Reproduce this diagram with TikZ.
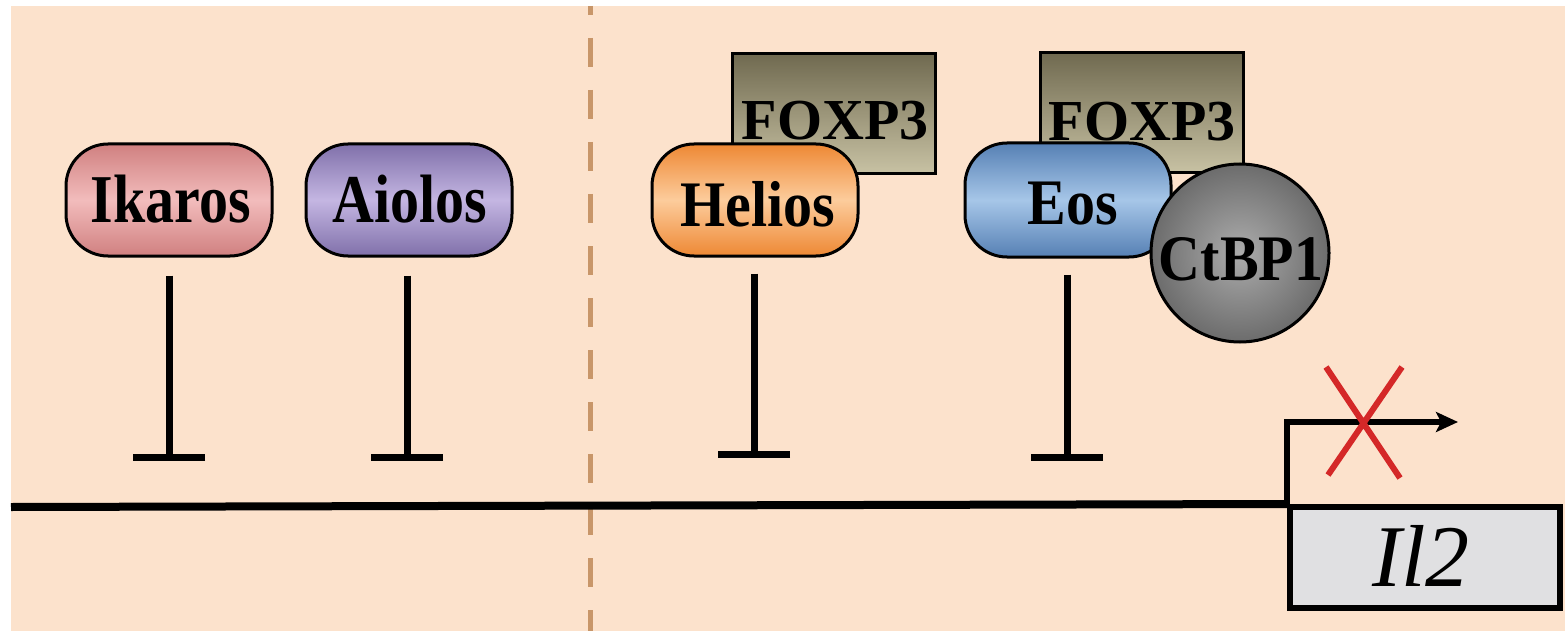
\documentclass[tikz,border=0pt]{standalone}
\usepackage{fontspec}
\setmainfont{Liberation Serif}
\usetikzlibrary{arrows.meta,shadings}
\definecolor{bg}{RGB}{252,226,204}
\definecolor{dashc}{RGB}{200,150,105}
\definecolor{ikT}{RGB}{208,128,128}\definecolor{ikM}{RGB}{242,188,188}
\definecolor{aiT}{RGB}{128,112,170}\definecolor{aiM}{RGB}{196,182,226}
\definecolor{heT}{RGB}{238,136,52}\definecolor{heM}{RGB}{252,204,156}
\definecolor{eoT}{RGB}{86,128,180}\definecolor{eoM}{RGB}{166,198,232}
\definecolor{foT}{RGB}{112,106,80}\definecolor{foB}{RGB}{200,194,164}
\definecolor{ctI}{RGB}{172,172,172}\definecolor{ctO}{RGB}{108,108,108}
\definecolor{xred}{RGB}{212,40,40}
\definecolor{il2c}{RGB}{224,224,226}
\begin{document}
\begin{tikzpicture}[x=1pt,y=-1pt,
  lbl/.style={font=\fontsize{58}{60}\selectfont\bfseries, inner sep=0pt},
  prot/.style={draw=black, line width=3pt, rounded corners=42pt, minimum width=206pt, minimum height=112pt, inner sep=0pt},
  foxbox/.style={draw=black, line width=3pt, top color=foT, bottom color=foB, minimum width=203pt, minimum height=120pt, inner sep=0pt},
  inh/.style={line width=7pt, -{Bar[width=72pt]}},
]
\useasboundingbox (0,0) rectangle (1565,631);
\fill[bg] (11,6) rectangle (1565,631);
% dashed separator
\draw[dashc, line width=5pt, dash pattern=on 29pt off 23pt, dash phase=20pt] (590,6) -- (590,631);

% left proteins
\node[prot, top color=ikT, bottom color=ikT, middle color=ikM] (ik) at (169,200) {};
\node[lbl] (ikt) at (171,199) {\scalebox{1}[1.18]{Ikaros}};
\node[prot, top color=aiT, bottom color=aiT, middle color=aiM] (ai) at (409,200) {};
\node[lbl] (ait) at (410,199) {\scalebox{1}[1.18]{Aiolos}};

% Helios complex
\node[foxbox] (fox1) at (834,114) {};
\node[lbl] (fox1t) at (835,121) {FOXP3};
\node[prot, top color=heT, bottom color=heT, middle color=heM] (he) at (755,200) {};
\node[lbl] (het) at (758,204) {\scalebox{1}[1.12]{Helios}};

% Eos complex
\node[foxbox] (fox2) at (1142,113) {};
\node[lbl] (fox2t) at (1142,122) {FOXP3};
\node[prot, minimum height=114pt, top color=eoT, bottom color=eoT, middle color=eoM] (eo) at (1068,200) {};
\node[lbl] (eot) at (1073,204) {\scalebox{1}[1.12]{Eos}};
\node[circle, draw=black, line width=3pt, inner color=ctI, outer color=ctO, minimum size=178pt, inner sep=0pt] (ct) at (1240,253) {};
\node[lbl] (ctt) at (1241,259) {\scalebox{1}[1.12]{CtBP1}};

% inhibition connectors
\coordinate (ike) at (169,461);
\coordinate (aie) at (407,461);
\coordinate (hee) at (754,458);
\coordinate (eoe) at (1067,461);
\draw[inh] (ike |- ik.south) ++(0,18) -- (ike);
\draw[inh] (aie |- ai.south) ++(0,18) -- (aie);
\draw[inh] (hee |- he.south) ++(0,16) -- (hee);
\draw[inh] (eoe |- eo.south) ++(0,16) -- (eoe);

% gene
\node[draw=black, line width=6pt, fill=il2c, minimum width=270pt, minimum height=101pt, inner sep=0pt] (il2) at (1425,557.5) {};
\node[inner sep=0pt, font=\fontsize{88}{90}\selectfont\itshape] (il2t) at (1421,556) {Il2};
\draw[line width=8pt] (11,507) -- (il2.north west);
\coordinate (tss) at (1458,422);
\draw[line width=6pt, -{Stealth[length=22pt,width=20pt,inset=5pt]}] (il2.north west) |- (tss);
% red cross
\draw[xred, line width=6pt] (1326,367) -- (1400,478) (1402,367) -- (1328,475);
\end{tikzpicture}
\end{document}
